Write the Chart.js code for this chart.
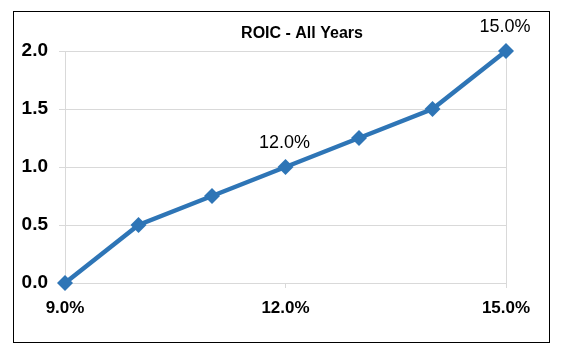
<!DOCTYPE html>
<html>
<head>
<meta charset="utf-8">
<script src="https://cdn.jsdelivr.net/npm/chart.js@4/dist/chart.umd.min.js"></script>
<style>
  html, body { margin: 0; padding: 0; background: #fff; }
  #wrap { width: 568px; height: 353px; }
</style>
</head>
<body>
<div id="wrap"><canvas id="roicChart" width="568" height="353"></canvas></div>
<script>
const chartTitle = "ROIC - All Years";
const roicValues = [9, 10, 11, 12, 13, 14, 15]; // x, in %
const seriesValues = [0, 0.5, 0.75, 1.0, 1.25, 1.5, 2.0];
const labelledPoints = [3, 6]; // points that carry a data label
const xTicks = [9, 12, 15];
const yTicks = [0, 0.5, 1.0, 1.5, 2.0];

const blue = "#2E75B6";
const fontFamily = "'Liberation Sans', Arial, sans-serif";

// frame + title + data labels
const decorPlugin = {
  id: "decor",
  beforeDraw(chart) {
    const ctx = chart.ctx;
    ctx.save();
    ctx.fillStyle = "#fff";
    ctx.fillRect(0, 0, chart.width, chart.height);
    ctx.strokeStyle = "#000";
    ctx.lineWidth = 1;
    ctx.strokeRect(13.5, 11.5, 536, 331);
    ctx.restore();
  },
  afterDatasetsDraw(chart) {
    const ctx = chart.ctx;
    ctx.save();
    ctx.fillStyle = "#000";
    ctx.font = "bold 16px " + fontFamily;
    ctx.textAlign = "center";
    ctx.textBaseline = "middle";
    ctx.fillText(chartTitle, 302, 34);

    ctx.font = "18px " + fontFamily;
    const meta = chart.getDatasetMeta(0);
    labelledPoints.forEach(function (i) {
      const pt = meta.data[i];
      ctx.fillText(roicValues[i].toFixed(1) + "%", pt.x - 1, pt.y - 24);
    });
    ctx.restore();
  }
};

const ctx = document.getElementById("roicChart").getContext("2d");

new Chart(ctx, {
  type: "line",
  data: {
    datasets: [
      {
        data: roicValues.map((x, i) => ({ x: x, y: seriesValues[i] })),
        borderColor: blue,
        backgroundColor: blue,
        borderWidth: 4.5,
        pointStyle: "rectRot",
        pointRadius: 8,
        pointHoverRadius: 8,
        pointBorderWidth: 0,
        tension: 0,
        clip: false,
      },
    ],
  },
  options: {
    responsive: false,
    animation: false,
    layout: { padding: { top: 51, right: 62, left: 0, bottom: 0 } },
    plugins: {
      legend: { display: false },
      tooltip: { enabled: false },
      title: { display: false },
    },
    scales: {
      x: {
        type: "linear",
        min: 9,
        max: 15,
        afterBuildTicks(scale) {
          scale.ticks = xTicks.map((v) => ({ value: v }));
        },
        afterFit(scale) {
          scale.height = 70;
        },
        ticks: {
          color: "#000",
          font: { family: fontFamily, size: 17, weight: "bold" },
          padding: 10,
          maxRotation: 0,
          callback: (v) => Number(v).toFixed(1) + "%",
        },
        grid: {
          color: (c) => (c.tick && c.tick.value === 12 ? "rgba(0,0,0,0)" : "#D9D9D9"),
          tickColor: "#D9D9D9",
          tickLength: 5,
        },
        border: { color: "#D9D9D9" },
      },
      y: {
        min: 0,
        max: 2,
        afterBuildTicks(scale) {
          scale.ticks = yTicks.map((v) => ({ value: v }));
        },
        afterFit(scale) {
          scale.width = 65;
        },
        ticks: {
          color: "#000",
          font: { family: fontFamily, size: 19, weight: "bold" },
          padding: 11,
          callback: (v) => Number(v).toFixed(1),
        },
        grid: {
          color: "#D9D9D9",
          tickColor: "#D9D9D9",
          tickLength: 6,
        },
        border: { color: "#D9D9D9" },
      },
    },
  },
  plugins: [decorPlugin],
});
</script>
</body>
</html>
